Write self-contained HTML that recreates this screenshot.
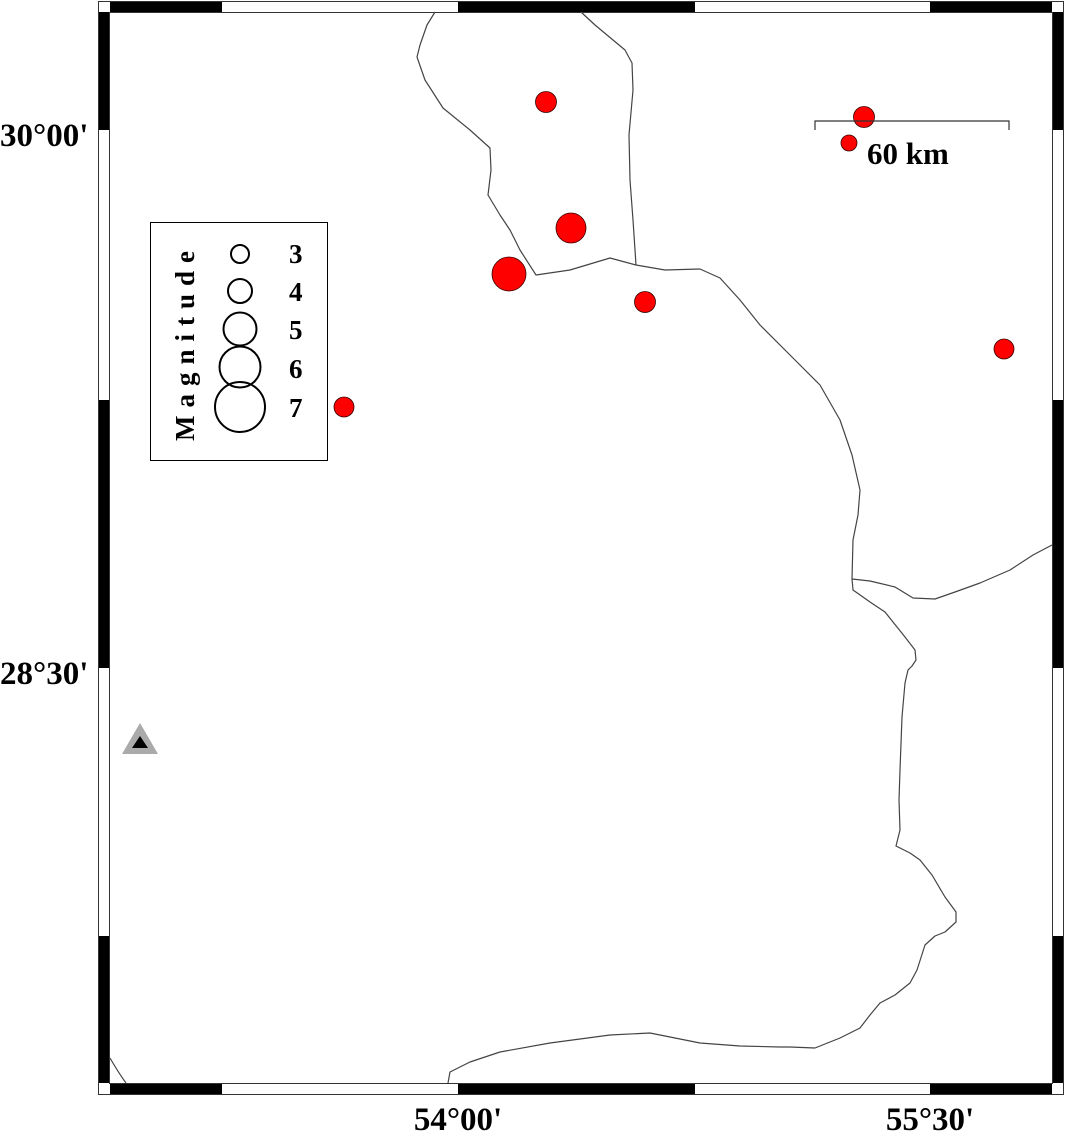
<!DOCTYPE html>
<html><head><meta charset="utf-8"><style>
html,body{margin:0;padding:0;background:#fff;}
svg{display:block;}
text{font-family:"Liberation Serif",serif;font-weight:bold;fill:#000;}
</style></head><body>
<svg width="1066" height="1133" viewBox="0 0 1066 1133" xmlns="http://www.w3.org/2000/svg">
<rect x="0" y="0" width="1066" height="1133" fill="#fff"/>
<rect x="98.5" y="1.5" width="965" height="1093" fill="#fff" stroke="#333" stroke-width="1"/>
<rect x="109.5" y="12.5" width="943" height="1071" fill="none" stroke="#333" stroke-width="1"/>
<g fill="#000">
<rect x="110" y="2" width="112" height="10"/><rect x="458" y="2" width="237" height="10"/><rect x="930" y="2" width="122" height="10"/>
<rect x="110" y="1084" width="112" height="10"/><rect x="458" y="1084" width="237" height="10"/><rect x="930" y="1084" width="122" height="10"/>
<rect x="99" y="12" width="10" height="118"/><rect x="99" y="400" width="10" height="268"/><rect x="99" y="936" width="10" height="147"/>
<rect x="1053" y="12" width="10" height="118"/><rect x="1053" y="400" width="10" height="268"/><rect x="1053" y="936" width="10" height="147"/>
</g>
<g fill="none" stroke="#444" stroke-width="1.2" stroke-linejoin="round">
<polyline points="435,12 427,25 420,45 417,57 425,80 443,108 470,130 490,148 491,170 488,195 500,215 510,230 520,250 536,275 570,270 610,258 636,265"/>
<polyline points="581,12 595,25 625,50 632,63 633,90 629,135 630,180 633,220 636,265 665,270 700,269 720,278 740,300 760,325 790,355 820,385 840,420 852,455 860,490 858,515 853,540 852,579"/>
<polyline points="852,579 870,581 895,587 913,598 935,599 955,592 980,583 1010,570 1033,555 1052,545"/>
<polyline points="852,579 853,590 870,602 885,612 893,622 905,637 915,650 916,660 912,666 908,670 905,683 902,717 900,770 899,800 900,830 896,846 910,853 920,860 932,875 945,897 956,912 956,922 945,932 935,936 925,945 917,970 910,983 895,995 880,1003 870,1015 860,1028 840,1038 815,1048 790,1047 780,1047 740,1046 700,1043 650,1033 610,1035 550,1043 500,1052 470,1062 450,1072 448,1083"/>
<path d="M110,1058 Q118,1072 126,1083"/>
</g>
<g fill="#f00" stroke="#300" stroke-width="0.8">
<circle cx="546" cy="102" r="10.5"/>
<circle cx="864" cy="117" r="10.5"/>
<circle cx="849" cy="143" r="8"/>
<circle cx="571" cy="228" r="15"/>
<circle cx="509" cy="274" r="17"/>
<circle cx="645" cy="302" r="10.5"/>
<circle cx="1004" cy="349" r="10"/>
<circle cx="344" cy="407" r="10"/>
</g>
<polyline points="815,130 815,121 1009,121 1009,130" fill="none" stroke="#333" stroke-width="1.2"/>
<text x="867" y="164" font-size="31">60 km</text>
<rect x="150.5" y="222.5" width="177" height="238" fill="#fff" stroke="#000" stroke-width="1"/>
<g fill="none" stroke="#000" stroke-width="2">
<circle cx="240" cy="254" r="9"/>
<circle cx="240" cy="291" r="12"/>
<circle cx="240" cy="329" r="16.5"/>
<circle cx="240" cy="367" r="20.5"/>
<circle cx="240" cy="407" r="25"/>
</g>
<g font-size="27">
<text x="289" y="263">3</text>
<text x="289" y="301">4</text>
<text x="289" y="339">5</text>
<text x="289" y="378">6</text>
<text x="289" y="417">7</text>
</g>
<text transform="translate(194,441) rotate(-90)" font-size="27" letter-spacing="8">Magnitude</text>
<polygon points="140,723 158,754 122,754" fill="#aaa"/>
<polygon points="140,736 148,748 132,748" fill="#000"/>
<g font-size="33">
<text x="0" y="146">30°00'</text>
<text x="0" y="684">28°30'</text>
<text x="458" y="1130" text-anchor="middle">54°00'</text>
<text x="930" y="1130" text-anchor="middle">55°30'</text>
</g>
</svg>
</body></html>
